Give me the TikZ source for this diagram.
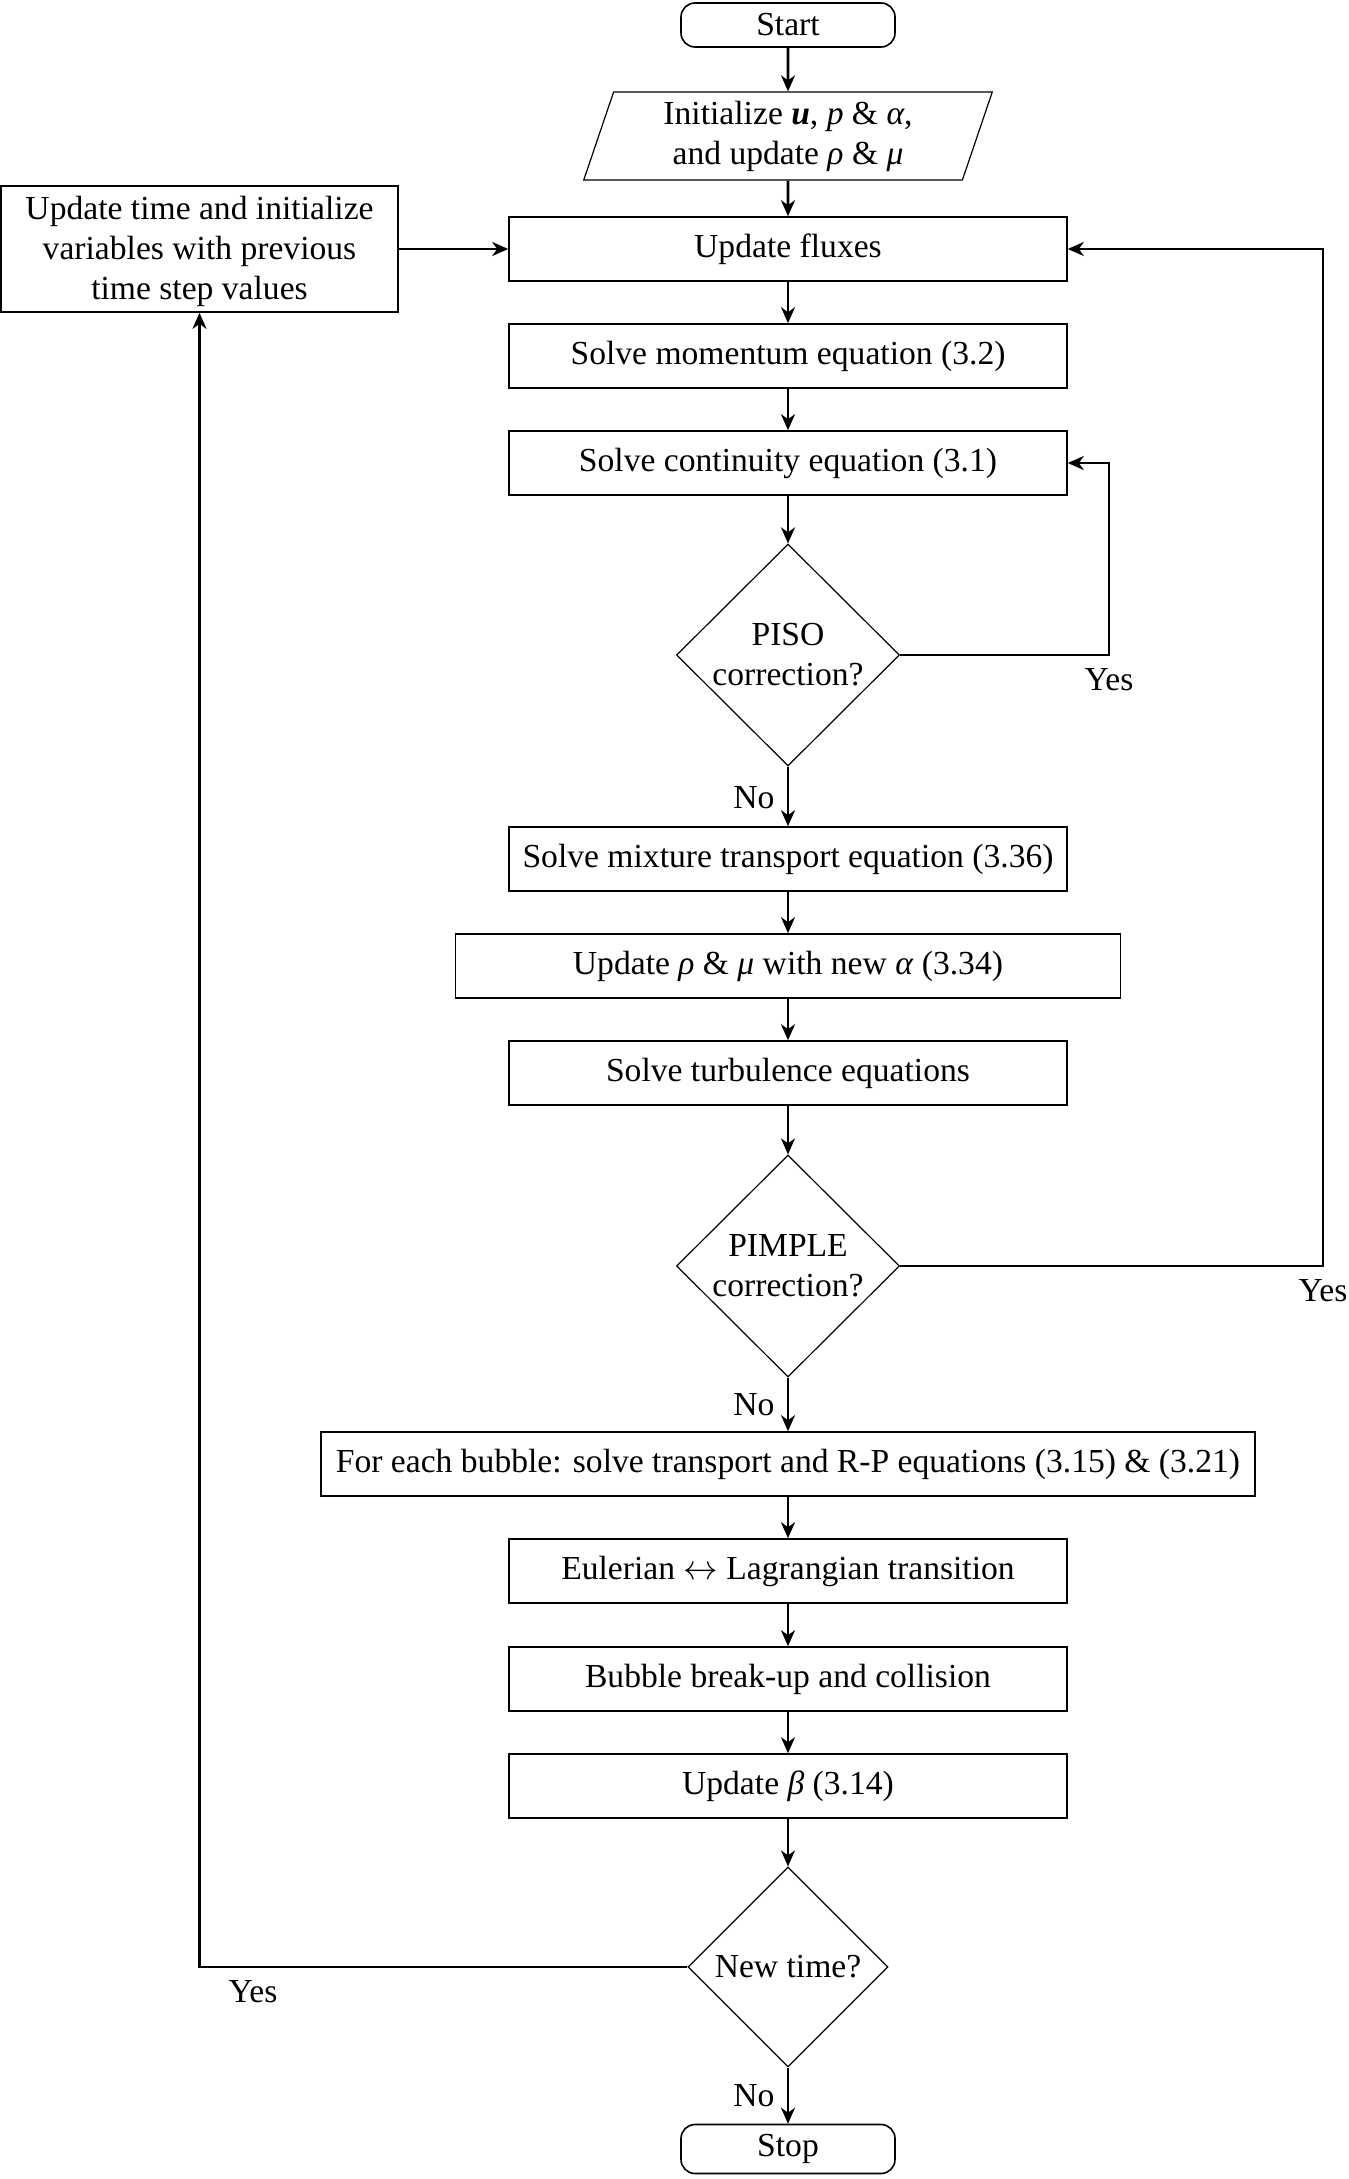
\documentclass[tikz,border=0pt]{standalone}
\usepackage{fontspec}
\setmainfont{Liberation Serif}
\usetikzlibrary{shapes.geometric,arrows.meta}
\newcommand{\gk}[1]{\textit{#1}}
\begin{document}
\begin{tikzpicture}[x=0.5pt,y=-0.5pt,
  every node/.style={font=\fontsize{16.8}{20}\selectfont},
  box/.style={draw, line width=0.8pt, minimum width=279pt, minimum height=32pt, inner sep=2pt},
  term/.style={draw, line width=0.8pt, rounded corners=7pt, minimum width=107pt, minimum height=22pt},
  dec/.style={draw, diamond, line width=0.6pt, inner sep=0pt, align=center, minimum width=111.5pt, minimum height=111pt},
  io/.style={draw, trapezium, trapezium left angle=75, trapezium right angle=105, trapezium stretches=true, line width=0.6pt, align=center, minimum width=204.5pt, minimum height=44pt},
  conn/.style={line width=1.3pt, -{Stealth[length=8pt,width=7pt,inset=2.5pt]}},
  lbl/.style={inner sep=0pt}
]
\useasboundingbox (0,0) rectangle (1349,2179);
\node[term] (start) at (788,25) {Start};
\node[io] (init) at (788,136) {Initialize \textbf{\textit{u}}, \gk{p} \& \gk{α},\\ and update \gk{ρ} \& \gk{μ}};
\node[box] (flux) at (788,249) {Update fluxes};
\node[box, minimum width=198.5pt, minimum height=63pt, align=center] (upd) at (199.5,249) {\rule{0pt}{14pt}Update time and initialize\\ variables with previous\\ time step values};
\node[box] (mom) at (788,356) {Solve momentum equation (3.2)};
\node[box] (cont) at (788,463) {Solve continuity equation (3.1)};
\node[dec] (piso) at (788,655) {PISO\\ correction?};
\node[box] (mix) at (788,859) {Solve mixture transport equation (3.36)};
\node[box, minimum width=332.5pt] (rho) at (788,966) {Update \gk{ρ} \& \gk{μ} with new \gk{α} (3.34)};
\node[box] (turb) at (788,1073) {Solve turbulence equations};
\node[dec] (pimple) at (788,1266) {PIMPLE\\ correction?};
\node[box, minimum width=467pt] (each) at (788,1464) {For each bubble: solve transport and R-P equations (3.15) \& (3.21)};
\node[box] (eul) at (788,1571) {Eulerian $\leftrightarrow$ Lagrangian transition};
\node[box] (brk) at (788,1679) {Bubble break-up and collision};
\node[box] (beta) at (788,1786) {Update \gk{β} (3.14)};
\node[dec, minimum width=100pt, minimum height=100pt] (newt) at (788,1967) {New time?};
\node[term, minimum height=24.5pt] (stop) at (788,2149) {Stop};

\coordinate (pisoR) at (1109,0);
\coordinate (pimpR) at (1323,0);

\draw[conn] (start) -- (init);
\draw[conn] (init) -- (flux);
\draw[conn] (upd) -- (flux);
\draw[conn] (flux) -- (mom);
\draw[conn] (mom) -- (cont);
\draw[conn] (cont) -- (piso);
\draw[conn] (piso) -- (mix);
\draw[conn] (mix) -- (rho);
\draw[conn] (rho) -- (turb);
\draw[conn] (turb) -- (pimple);
\draw[conn] (pimple) -- (each);
\draw[conn] (each) -- (eul);
\draw[conn] (eul) -- (brk);
\draw[conn] (brk) -- (beta);
\draw[conn] (beta) -- (newt);
\draw[conn] (newt) -- (stop);
\draw[conn] (piso.east) -- (piso.east -| pisoR) |- (cont.east);
\draw[conn] (pimple.east) -- (pimple.east -| pimpR) |- (flux.east);
\draw[conn] (newt.west) -- (newt.west -| upd.south) -- (upd.south);

\node[lbl] (yes1) at (1109,680) {Yes};
\node[lbl] (yes2) at (1323,1291) {Yes};
\node[lbl] (yes3) at (253,1992) {Yes};
\node[lbl] (no1) at (754,798) {No};
\node[lbl] (no2) at (754,1405) {No};
\node[lbl] (no3) at (754,2096) {No};
\end{tikzpicture}
\end{document}
